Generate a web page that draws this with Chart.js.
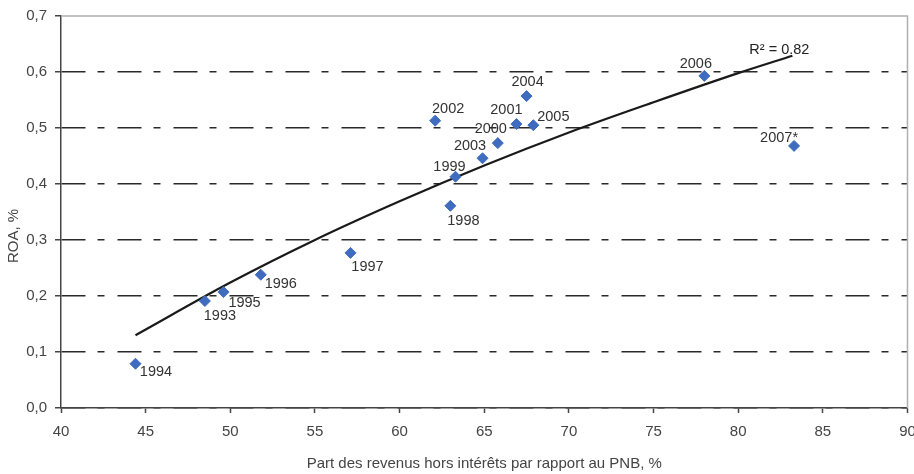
<!DOCTYPE html>
<html>
<head>
<meta charset="utf-8">
<script src="https://cdn.jsdelivr.net/npm/chart.js@4"></script>
<style>
  body { margin: 0; background: #fff; }
  #wrap { width: 914px; height: 474px; }
</style>
</head>
<body>
<div id="wrap"><canvas id="roaChart" width="914" height="474"></canvas></div>
<script>
// Values
const years = ['1993', '1994', '1995', '1996', '1997', '1998', '1999', '2000', '2001', '2002', '2003', '2004', '2005', '2006', '2007*'];
const nonInterestShare = [48.5, 44.4, 49.6, 51.8, 57.1, 63.0, 63.3, 65.8, 66.9, 62.1, 64.9, 67.5, 67.9, 78.0, 83.3];
const roa = [0.191, 0.079, 0.207, 0.238, 0.277, 0.361, 0.413, 0.473, 0.507, 0.513, 0.446, 0.557, 0.505, 0.593, 0.468];

// trend curve as drawn in the reference
const trendX = [44.4, 50, 55, 60, 65, 70, 75, 80, 83.2];
const trendY = [0.130, 0.224, 0.300, 0.369, 0.433, 0.492, 0.546, 0.598, 0.629];
const trendLabel = 'R² = 0.82';

const xTicks = [40, 45, 50, 55, 60, 65, 70, 75, 80, 85, 90];
const yTickLabels = ['0,0', '0,1', '0,2', '0,3', '0,4', '0,5', '0,6', '0,7'];
const yTitle = 'ROA, %';

// where each year label sits relative to its point (px)
const labelOffsets = [
    [15, 14.5], [20.5, 8.5], [21, 11], [20, 9], [17, 14], [13, 15], [-6, -9.5],
    [-7, -14], [-10, -14.5], [13, -12], [-12.5, -12.5], [1, -14], [20, -8.5], [-8.5, -12], [-15, -7.5]
];

const FONT = "'Liberation Sans', Arial, sans-serif";

const pointLabels = {
    id: 'pointLabels',
    afterDatasetsDraw(chart) {
        const ctx = chart.ctx;
        ctx.save();
        ctx.font = '14.5px ' + FONT;
        ctx.fillStyle = '#333';
        ctx.textAlign = 'center';
        ctx.textBaseline = 'middle';
        chart.getDatasetMeta(1).data.forEach((pt, i) => {
            ctx.fillText(years[i], pt.x + labelOffsets[i][0], pt.y + labelOffsets[i][1]);
        });
        // R² next to the end of the trend curve
        const trendPts = chart.getDatasetMeta(0).data;
        const last = trendPts[trendPts.length - 1];
        ctx.fillStyle = '#222';
        ctx.fillText(trendLabel, last.x - 13, last.y - 6);
        ctx.restore();
    }
};

// light frame on top/right, y title sits a bit below the middle like the original
const plotFrame = {
    id: 'plotFrame',
    beforeDatasetsDraw(chart) {
        const {ctx, chartArea: a} = chart;
        ctx.save();
        ctx.strokeStyle = '#b0b0b0';
        ctx.lineWidth = 1.5;
        ctx.beginPath();
        ctx.moveTo(a.left, a.top);
        ctx.lineTo(a.right, a.top);
        ctx.lineTo(a.right, a.bottom);
        ctx.stroke();

        ctx.translate(14, 236);
        ctx.rotate(-Math.PI / 2);
        ctx.font = '15px ' + FONT;
        ctx.fillStyle = '#444';
        ctx.textAlign = 'center';
        ctx.textBaseline = 'middle';
        ctx.fillText(yTitle, 0, 0);
        ctx.restore();
    }
};

new Chart(document.getElementById('roaChart'), {
    type: 'scatter',
    data: {
        datasets: [{
            label: 'trend',
            data: trendX.map((x, i) => ({x: x, y: trendY[i]})),
            showLine: true,
            borderColor: '#1a1a1a',
            borderWidth: 2.2,
            pointRadius: 0,
            cubicInterpolationMode: 'monotone',
            order: 2
        }, {
            label: 'ROA',
            data: nonInterestShare.map((x, i) => ({x: x, y: roa[i]})),
            pointStyle: 'rectRot',
            pointRadius: 5.5,
            pointBackgroundColor: '#3f6cbf',
            pointBorderColor: '#3f6cbf',
            order: 1
        }]
    },
    options: {
        responsive: false,
        animation: false,
        layout: { padding: { left: 0, right: 6, top: 16, bottom: 0 } },
        plugins: {
            legend: { display: false },
            tooltip: { enabled: false }
        },
        scales: {
            x: {
                type: 'linear',
                min: 40,
                max: 90,
                afterBuildTicks: s => { s.ticks = xTicks.map(v => ({value: v})); },
                afterFit: s => { s.height = 66; s.paddingLeft = 0; s.paddingRight = 0; },
                ticks: {
                    font: { family: FONT, size: 15 },
                    color: '#444',
                    padding: 10,
                    maxRotation: 0
                },
                grid: {
                    drawOnChartArea: false,
                    tickLength: 5,
                    tickColor: '#444',
                    tickWidth: 1.5
                },
                border: { color: '#444', width: 1.5 },
                title: {
                    display: true,
                    text: 'Part des revenus hors intérêts par rapport au PNB, %',
                    font: { family: FONT, size: 15 },
                    color: '#444',
                    padding: { top: 0, bottom: 1 }
                }
            },
            y: {
                type: 'linear',
                min: 0,
                max: 0.7,
                afterBuildTicks: s => { s.ticks = yTickLabels.map((t, i) => ({value: i / 10})); },
                afterFit: s => { s.width = 61; s.paddingTop = 0; s.paddingBottom = 0; },
                ticks: {
                    font: { family: FONT, size: 15 },
                    color: '#444',
                    padding: 8,
                    callback: (v, i) => yTickLabels[i]
                },
                grid: {
                    color: ctx => (ctx.tick && ctx.tick.value > 0.65) ? 'rgba(0,0,0,0)' : '#2a2a2a',
                    lineWidth: 1.5,
                    tickLength: 6,
                    tickColor: '#444',
                    tickWidth: 1.5
                },
                border: { color: '#444', width: 1.5, dash: [24, 12, 7, 13] },
                title: { display: false }
            }
        }
    },
    plugins: [plotFrame, pointLabels]
});
</script>
</body>
</html>
